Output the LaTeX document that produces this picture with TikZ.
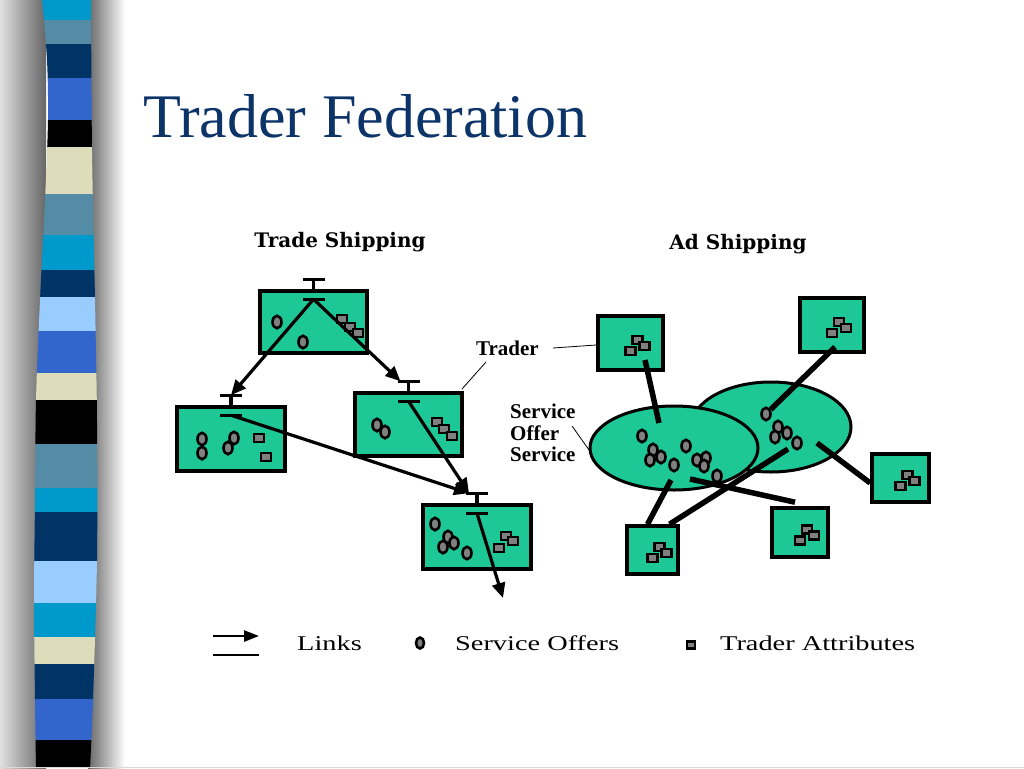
\documentclass[tikz,border=0pt]{standalone}
\usepackage{fontspec}
\setmainfont{Liberation Serif}
\newfontfamily\headfont{DejaVu Serif}
\newfontfamily\legendfont[FakeStretch=1.35]{Liberation Serif}
\definecolor{titleblue}{RGB}{12,52,105}
\definecolor{tradegreen}{RGB}{30,200,150}
\definecolor{offergray}{RGB}{128,128,128}
\definecolor{stripecyan}{RGB}{0,153,204}
\definecolor{stripesteel}{RGB}{85,140,165}
\definecolor{stripenavy}{RGB}{0,51,102}
\definecolor{striperoyal}{RGB}{51,102,204}
\definecolor{stripebeige}{RGB}{221,221,187}
\definecolor{stripesky}{RGB}{153,204,255}
\usetikzlibrary{shapes.geometric, arrows.meta, positioning}

\tikzset{
  trader/.style={rectangle, draw, line width=3.6pt, fill=tradegreen, inner sep=0pt},
  group/.style={ellipse, draw, line width=3pt, fill=tradegreen, inner sep=0pt},
  offer/.style={ellipse, draw, line width=2.6pt, fill=offergray, inner sep=0pt,
                minimum width=9pt, minimum height=12.5pt},
  attr/.style={rectangle, draw, line width=2.5pt, fill=offergray, inner sep=0pt,
               minimum width=10pt, minimum height=8pt},
  portbar/.style={line width=3.2pt},
  link/.style={line width=3.2pt, -{Triangle[length=15pt,width=13pt]}},
  tie/.style={line width=5.5pt},
  leader/.style={line width=0.8pt},
}

\begin{document}
\begin{tikzpicture}[x=1pt, y=-1pt]
  \useasboundingbox (0,0) rectangle (1024,768);
  \fill[white] (0,0) rectangle (1024,768);

  % striped bar on the left
  \shade[left color=black!12, right color=black!60] (0,0) rectangle (46,768);
  \shade[left color=black!60, right color=white] (88,0) rectangle (125,768);
  \begin{scope}
    \clip plot[smooth] coordinates {(42,-1) (47,60) (48,120) (45,200) (40,300) (36,400) (35,500) (34,600) (35,700) (36,769)}
      -- plot[smooth] coordinates {(90,769) (93,700) (97,560) (97,420) (95,300) (92,150) (91,-1)} -- cycle;
    \foreach \ya/\yb/\col in {0/20/stripecyan, 20/44/stripesteel, 44/78/stripenavy, 78/120/striperoyal,
        120/147/black, 147/194/stripebeige, 194/235/stripesteel, 235/270/stripecyan, 270/297/stripenavy,
        297/331/stripesky, 331/373/striperoyal, 373/400/stripebeige, 400/444/black, 444/488/stripesteel,
        488/512/stripecyan, 512/561/stripenavy, 561/603/stripesky, 603/637/stripecyan, 637/664/stripebeige,
        664/699/stripenavy, 699/740/striperoyal, 740/768/black}
      \fill[\col] (0,\ya-0.3) rectangle (130,\yb+0.3);
  \end{scope}
  \draw[black!15, line width=1pt] (0,767) -- (1024,767);

  \node[anchor=base west, text=titleblue, font=\fontsize{62}{70}\selectfont] (title) at (140,137) {Trader Federation};

  \node[anchor=base, font=\headfont\bfseries\fontsize{20}{22}\selectfont] (tradehead) at (340,247) {Trade Shipping};
  \node[anchor=base, font=\headfont\bfseries\fontsize{20}{22}\selectfont] (adhead) at (738,249) {Ad Shipping};

  % trade shipping: linked traders
  \node[trader, minimum width=107pt, minimum height=62pt] (top) at (313.5,322) {};
  \node[trader, minimum width=108pt, minimum height=64pt] (B) at (231,439) {};
  \node[trader, minimum width=107pt, minimum height=63pt] (C) at (408.5,424.5) {};
  \node[trader, minimum width=108pt, minimum height=64pt] (D) at (477,537) {};

  \foreach \x/\y [count=\i] in {277/322, 303/342} \node[offer] (top-o\i) at (\x,\y) {};
  \foreach \x/\y [count=\i] in {202/439, 202/453, 234/438, 228/448} \node[offer] (B-o\i) at (\x,\y) {};
  \foreach \x/\y [count=\i] in {377/425, 385/432} \node[offer] (C-o\i) at (\x,\y) {};
  \foreach \x/\y [count=\i] in {435/524, 448/537, 454/543, 443/547, 467/553} \node[offer] (D-o\i) at (\x,\y) {};

  \foreach \x/\y [count=\i] in {342/319, 350/327, 358/333} \node[attr] (top-a\i) at (\x,\y) {};
  \foreach \x/\y [count=\i] in {259/438, 266/457} \node[attr] (B-a\i) at (\x,\y) {};
  \foreach \x/\y [count=\i] in {437/422, 444/429, 452/436} \node[attr] (C-a\i) at (\x,\y) {};
  \foreach \x/\y [count=\i] in {506/536, 513/541, 499/548} \node[attr] (D-a\i) at (\x,\y) {};

  \foreach \nm in {top, B, C, D} {
    \draw[portbar] (\nm.north) -- ++(0,-10) coordinate (\nm-out) ++(-11,0) -- ++(22,0);
    \path (\nm.north) ++(0,10) coordinate (\nm-in);
    \draw[portbar] (\nm-in) ++(-11,0) -- ++(22,0);
  }
  \coordinate (D-exit) at (503,598);

  \draw[link] (top-in) -- (B-out);
  \draw[link] (top-in) -- ([xshift=-8pt]C-out);
  \draw[link] (B-in) -- ([xshift=-8pt]D-out);
  \draw[link] (C-in) -- ([xshift=-8pt]D-out);
  \draw[link] (D-in) -- (D-exit);

  % ad shipping: traders around service offer groups
  \node[group, minimum width=160pt, minimum height=90pt] (grp-r) at (771,427) {};
  \node[group, minimum width=168pt, minimum height=84pt] (grp-l) at (674,448) {};

  \foreach \x/\y [count=\i] in {642/436, 653/450, 661/457, 650/460, 686/446, 674/465, 697/460, 706/458, 704/466, 717/476}
    \node[offer] (grp-l-o\i) at (\x,\y) {};
  \foreach \x/\y [count=\i] in {766/414, 778/427, 787/433, 775/437, 797/443}
    \node[offer] (grp-r-o\i) at (\x,\y) {};

  \node[trader, minimum width=65pt, minimum height=54pt] (E) at (630.5,343) {};
  \node[trader, minimum width=64pt, minimum height=54pt] (F) at (832,325) {};
  \node[trader, minimum width=57pt, minimum height=48pt] (G) at (900.5,478) {};
  \node[trader, minimum width=56pt, minimum height=49pt] (H) at (800,532.5) {};
  \node[trader, minimum width=51pt, minimum height=48pt] (I) at (652.5,550) {};

  \foreach \nm/\x/\y in {E/630.5/343, F/832/325, G/900.5/478, H/800/532.5, I/652.5/550} {
    \node[attr] (\nm-a1) at (\x+7,\y-3) {};
    \node[attr] (\nm-a2) at (\x+14,\y+3) {};
    \node[attr] (\nm-a3) at (\x,\y+8) {};
  }

  \coordinate (E-foot) at (645,360);
  \coordinate (F-foot) at (835,347);
  \coordinate (grp-l-a) at (659,423);
  \coordinate (grp-l-c) at (690,479);
  \coordinate (grp-l-d) at (671,480);
  \coordinate (grp-r-c) at (817,443);
  \coordinate (grp-r-d) at (788,449);

  \draw[tie] (E-foot) -- (grp-l-a);
  \draw[tie] (F-foot) -- (grp-r-o1);
  \draw[tie] (grp-r-c) -- ([yshift=-5pt]G.west);
  \draw[tie] (grp-l-c) -- ([xshift=-5pt,yshift=4pt]H.north);
  \draw[tie] ([xshift=-5pt]I.north) -- (grp-l-d);
  \draw[tie] ([xshift=17pt]I.north) -- (grp-r-d);

  % labels
  \node[anchor=base west, inner sep=0pt, font=\bfseries\fontsize{21}{23}\selectfont] (traderlbl) at (476,355) {Trader};
  \node[anchor=north west, inner sep=0pt, align=left, font=\bfseries\fontsize{21}{21.5}\selectfont] (offerlbl) at (510,404) {Service\\Offer\\Service};
  \coordinate (traderlbl-a) at (486,362);
  \coordinate (traderlbl-b) at (553,348);
  \coordinate (offerlbl-a) at (572,426);
  \draw[leader] (traderlbl-a) -- ([xshift=-2pt,yshift=2pt]C.north east);
  \draw[leader] (traderlbl-b) -- ([yshift=-2pt]E.west);
  \draw[leader] (offerlbl-a) -- ([xshift=2pt,yshift=-4pt]grp-l.west);

  % legend
  \coordinate (lg-a) at (213,636);
  \coordinate (lg-b) at (259,636);
  \coordinate (lg-c) at (213,655);
  \coordinate (lg-d) at (259,655);
  \draw[line width=2.6pt, -{Triangle[length=15pt,width=11pt]}] (lg-a) -- (lg-b);
  \draw[line width=2.6pt] (lg-c) -- (lg-d);
  \node[anchor=base west, inner sep=0pt, font=\legendfont\fontsize{21}{24}\selectfont] (lg-links) at (297,650) {Links};
  \node[offer, minimum width=8pt, minimum height=11pt] (lg-offer) at (420,643) {};
  \node[anchor=base west, inner sep=0pt, font=\legendfont\fontsize{21}{24}\selectfont] (lg-offers) at (455,650) {Service Offers};
  \node[attr, minimum width=8pt, minimum height=7pt] (lg-attr) at (691,645) {};
  \node[anchor=base west, inner sep=0pt, font=\legendfont\fontsize{21}{24}\selectfont] (lg-attrs) at (720,650) {Trader Attributes};
\end{tikzpicture}
\end{document}
